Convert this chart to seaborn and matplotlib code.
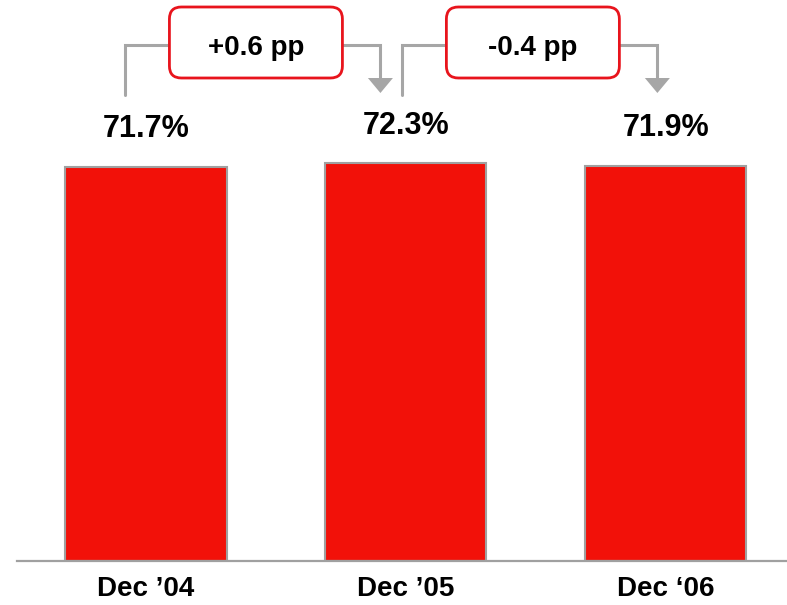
import matplotlib
matplotlib.use("Agg")
import matplotlib.pyplot as plt
from matplotlib.patches import FancyBboxPatch, Polygon
import seaborn as sns
import pandas as pd

# Rates at each year end (percent)
periods = ["Dec \u201904", "Dec \u201905", "Dec \u201806"]
rates = [71.7, 72.3, 71.9]
value_labels = ["71.7%", "72.3%", "71.9%"]
change_labels = ["+0.6 pp", "-0.4 pp"]

BAR_RED = "#F21109"
BAR_EDGE = "#A0A0A0"
GREY = "#A6A6A6"
BOX_RED = "#E8141C"

sns.set_style("white")
plt.rcParams["font.family"] = ["Liberation Sans", "DejaVu Sans"]
plt.rcParams["font.weight"] = "bold"

W, H = 787, 605
fig = plt.figure(figsize=(W / 100, H / 100), dpi=100)
ax = fig.add_axes([17 / W, 44 / H, 770 / W, 561 / H])

df = pd.DataFrame({"period": periods, "rate": rates})
sns.barplot(data=df, x="period", y="rate", color=BAR_RED, saturation=1,
            width=0.62, edgecolor=BAR_EDGE, linewidth=1.5, ax=ax)

ax.set_xlim(-0.496, 2.466)
ax.set_ylim(0, 102)
ax.set_xlabel("")
ax.set_ylabel("")
ax.set_yticks([])
for side in ("top", "right", "left"):
    ax.spines[side].set_visible(False)
ax.spines["bottom"].set_color(BAR_EDGE)
ax.spines["bottom"].set_linewidth(1.6)
ax.tick_params(axis="x", length=0, pad=11, labelsize=20, labelcolor="black")
for t in ax.get_xticklabels():
    t.set_fontweight("bold")

# value labels above each bar
for i, (v, lab) in enumerate(zip(rates, value_labels)):
    ax.annotate(lab, (i, v), xytext=(0, 21), textcoords="offset points",
                ha="center", va="baseline", fontsize=22, fontweight="bold",
                color="black")

# overlay in pixel coordinates for the change brackets
ov = fig.add_axes([0, 0, 1, 1])
ov.set_xlim(0, W)
ov.set_ylim(H, 0)
ov.axis("off")

centers_px = [ax.transData.transform((i, 0))[0] for i in range(len(rates))]
shifts = [-20, -3]
box_w, box_top, box_bot = 173, 7, 78
line_y, stem_bot, head_top, head_tip, head_half = 45, 95, 78, 93, 12.5

for k, lab in enumerate(change_labels):
    cx = (centers_px[k] + centers_px[k + 1]) / 2 + shifts[k]
    left_x = cx - 130.5
    arrow_x = cx + 124.5
    ov.plot([left_x, left_x, cx - box_w / 2], [stem_bot, line_y, line_y],
            color=GREY, lw=2.2, solid_joinstyle="miter", zorder=2)
    ov.plot([cx + box_w / 2, arrow_x, arrow_x], [line_y, line_y, head_top],
            color=GREY, lw=2.2, solid_joinstyle="miter", zorder=2)
    ov.add_patch(Polygon([[arrow_x - head_half, head_top],
                          [arrow_x + head_half, head_top],
                          [arrow_x, head_tip]], closed=True,
                         facecolor=GREY, edgecolor="none", zorder=2))
    ov.add_patch(FancyBboxPatch((cx - box_w / 2, box_top), box_w,
                                box_bot - box_top,
                                boxstyle="round,pad=0,rounding_size=12",
                                facecolor="white", edgecolor=BOX_RED,
                                lw=2.0, zorder=3))
    ov.text(cx, 55, lab, ha="center", va="baseline", fontsize=20,
            fontweight="bold", color="black", zorder=4)

fig.savefig("out.png", dpi=100)
